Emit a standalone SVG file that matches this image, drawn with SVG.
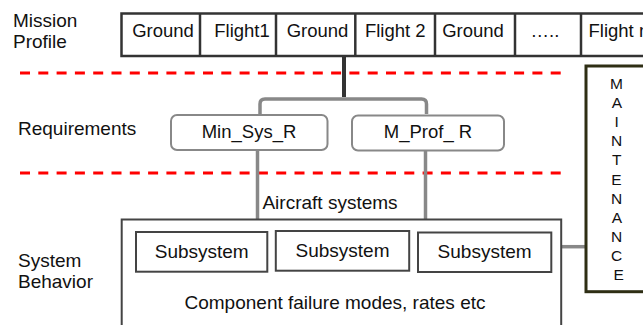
<svg xmlns="http://www.w3.org/2000/svg" width="643" height="325" viewBox="0 0 643 325">
<style>
text{font-family:"Liberation Sans",Arial,sans-serif;fill:#111;}
.lbl{font-size:19px;}
.cell{font-size:18.5px;text-anchor:middle;}
.mid{text-anchor:middle;}
.sep{stroke:#333;stroke-width:2.5;fill:none;}
.dash{stroke:#ff0000;stroke-width:3;stroke-dasharray:10 8.3;fill:none;}
.req{fill:#fff;stroke:#888;stroke-width:2;}
.box{fill:#fff;stroke:#444;stroke-width:2;}
.conn{stroke:#888;stroke-width:3.5;fill:none;}
</style>
<rect width="643" height="325" fill="#fff"/>
<g id="layer-labels">
<text class="lbl" x="13" y="27">Mission</text>
<text class="lbl" x="13" y="48">Profile</text>
<text class="lbl" x="18" y="135">Requirements</text>
<text class="lbl" x="18" y="267">System</text>
<text class="lbl" x="18" y="288">Behavior</text>
</g>
<g id="separators">
<line class="dash" x1="20" y1="73" x2="562" y2="73"/>
<line class="dash" x1="20" y1="173" x2="562" y2="173"/>
</g>
<g id="connectors">
<line x1="344" y1="56" x2="344" y2="97" stroke="#333" stroke-width="4"/>
<path class="conn" d="M260,114 V104 Q260,99 265,99 H421.5 Q426.5,99 426.5,104 V114"/>
<line class="conn" x1="257.5" y1="150" x2="257.5" y2="219"/>
<line class="conn" x1="425.5" y1="150" x2="425.5" y2="219"/>
<line class="conn" x1="561" y1="246.7" x2="586" y2="246.7"/>
</g>
<g id="mission-profile">
<rect x="121.5" y="13.5" width="540" height="42.5" fill="#fff" stroke="#333" stroke-width="2.5"/>
<line class="sep" x1="200" y1="13.5" x2="200" y2="56"/>
<line class="sep" x1="276" y1="13.5" x2="276" y2="56"/>
<line class="sep" x1="355.3" y1="13.5" x2="355.3" y2="56"/>
<line class="sep" x1="435" y1="13.5" x2="435" y2="56"/>
<line class="sep" x1="515" y1="13.5" x2="515" y2="56"/>
<line class="sep" x1="581" y1="13.5" x2="581" y2="56"/>
<text class="cell" x="163" y="37.3">Ground</text>
<text class="cell" x="242" y="37.3">Flight1</text>
<text class="cell" x="317.5" y="37.3">Ground</text>
<text class="cell" x="395.3" y="37.3">Flight 2</text>
<text class="cell" x="473" y="37.3">Ground</text>
<text class="cell" x="545" y="37.3">…..</text>
<text class="cell" x="588.5" y="37.3" style="text-anchor:start">Flight n</text>
</g>
<g id="min-sys-r">
<rect class="req" x="171" y="115" width="156.5" height="35" rx="6"/>
<text class="cell" x="249" y="138">Min_Sys_R</text>
</g>
<g id="m-prof-r">
<rect class="req" x="352" y="115.5" width="152" height="35" rx="6"/>
<text class="cell" x="428" y="138">M_Prof_ R</text>
</g>
<g id="system-behavior">
<rect class="box" x="121.7" y="219.5" width="439.5" height="120"/>
<text class="lbl mid" x="330" y="209">Aircraft systems</text>
<text class="lbl mid" x="335" y="308.5">Component failure modes, rates etc</text>
</g>
<g id="subsystem-1">
<rect class="box" x="136" y="232" width="131.3" height="39.7"/>
<text class="lbl mid" x="201.7" y="257.7">Subsystem</text>
</g>
<g id="subsystem-2">
<rect class="box" x="275.8" y="231" width="133.4" height="39.7"/>
<text class="lbl mid" x="342.5" y="256.5">Subsystem</text>
</g>
<g id="subsystem-3">
<rect class="box" x="418" y="232.5" width="133.3" height="39.5"/>
<text class="lbl mid" x="484.6" y="258.3">Subsystem</text>
</g>
<g id="maintenance">
<rect x="586" y="66" width="70" height="225.7" fill="#fff" stroke="#2e2e14" stroke-width="3"/>
<text class="mid" x="618.7" font-size="15.5">
<tspan x="618.7" y="89">M</tspan>
<tspan x="618.7" y="108.1">A</tspan>
<tspan x="618.7" y="127.2">I</tspan>
<tspan x="618.7" y="146.3">N</tspan>
<tspan x="618.7" y="165.4">T</tspan>
<tspan x="618.7" y="184.5">E</tspan>
<tspan x="618.7" y="203.6">N</tspan>
<tspan x="618.7" y="222.7">A</tspan>
<tspan x="618.7" y="241.8">N</tspan>
<tspan x="618.7" y="260.9">C</tspan>
<tspan x="618.7" y="280">E</tspan>
</text>
</g>
</svg>
